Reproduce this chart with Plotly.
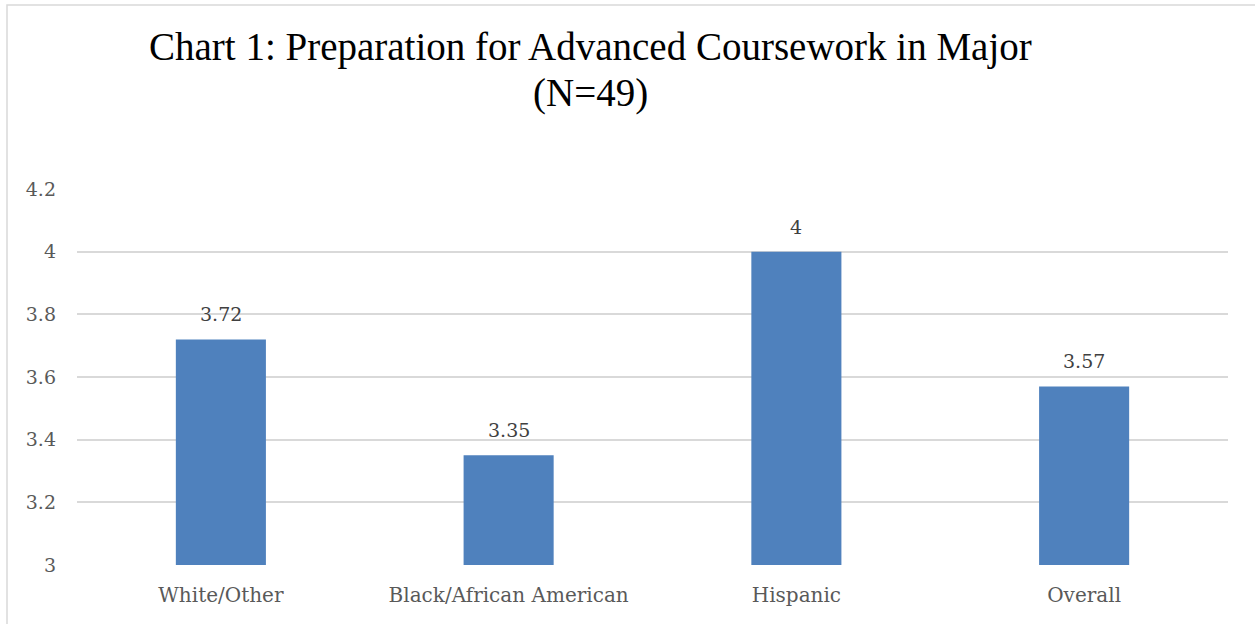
import plotly.graph_objects as go

# Mean preparation ratings by group
categories = ["White/Other", "Black/African American", "Hispanic", "Overall"]
values = [3.72, 3.35, 4.0, 3.57]
value_labels = ["3.72", "3.35", "4", "3.57"]
tick_vals = [3.0, 3.2, 3.4, 3.6, 3.8, 4.0, 4.2]
tick_text = ["3", "3.2", "3.4", "3.6", "3.8", "4", "4.2"]
title_lines = ["Chart 1: Preparation for Advanced Coursework in Major", "(N=49)"]

serif = "DejaVu Serif"
plot_top, plot_bottom = 189, 565

fig = go.Figure()
fig.add_trace(go.Bar(
    x=categories,
    y=values,
    marker=dict(color="#4F81BD", line=dict(width=0)),
    width=0.313,
    hoverinfo="skip",
))

for cat, val, lab in zip(categories, values, value_labels):
    fig.add_annotation(
        x=cat, y=val, text=lab, showarrow=False,
        yanchor="bottom", yshift=12,
        font=dict(family=serif, size=19, color="#404040"),
    )

# Two-line title, each line placed on its own
for line, y_px in zip(title_lines, [47, 93]):
    fig.add_annotation(
        xref="paper", yref="paper", x=0.446,
        y=(plot_bottom - y_px) / (plot_bottom - plot_top),
        text=line, showarrow=False, xanchor="center", yanchor="middle",
        font=dict(family="Liberation Serif", size=39, color="#000000"),
    )

# Outer chart frame
fig.add_shape(
    type="rect", xref="paper", yref="paper",
    x0=(7 - 77) / 1151, x1=1.05, y0=-0.3,
    y1=(plot_bottom - 5) / (plot_bottom - plot_top),
    line=dict(color="#D9D9D9", width=1.5), fillcolor="rgba(0,0,0,0)",
    layer="below",
)

fig.update_layout(
    width=1255, height=624,
    margin=dict(l=77, r=27, t=plot_top, b=624 - plot_bottom),
    paper_bgcolor="white", plot_bgcolor="white",
    showlegend=False,
    xaxis=dict(
        showgrid=False, showline=False, zeroline=False,
        tickfont=dict(family=serif, size=20, color="#595959"),
        ticks="", ticklabelstandoff=16,
    ),
    yaxis=dict(
        range=[3, 4.2], tickvals=tick_vals, ticktext=tick_text,
        showgrid=True, gridcolor="#D9D9D9", gridwidth=1.5,
        zeroline=False, showline=False, ticks="",
        tickfont=dict(family=serif, size=19, color="#595959"),
        ticklabelstandoff=20,
    ),
)

fig.write_html("out.html")
